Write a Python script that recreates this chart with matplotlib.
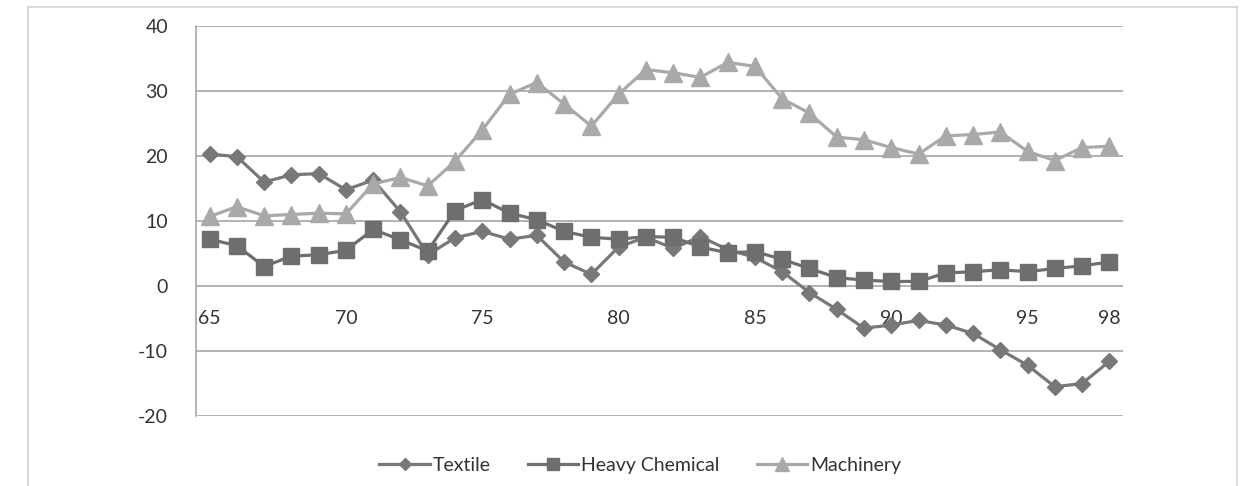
import matplotlib.pyplot as plt
import numpy as np
from matplotlib.lines import Line2D

plt.rcParams['font.family'] = ['Lato', 'DejaVu Sans']
plt.rcParams['axes.unicode_minus'] = False

years = np.arange(65, 99)
textile = [20.3, 19.9, 16.0, 17.1, 17.3, 14.8, 16.3, 11.4, 4.8, 7.4, 8.4, 7.2, 7.8, 3.7, 1.8,
           6.0, 7.5, 5.8, 7.6, 5.6, 4.4, 2.2, -1.0, -3.6, -6.5, -6.0, -5.3, -6.0, -7.3, -9.8,
           -12.2, -15.5, -15.0, -11.6]
heavy_chemical = [7.2, 6.2, 3.0, 4.6, 4.8, 5.5, 8.7, 7.1, 5.4, 11.6, 13.3, 11.2, 10.2, 8.4, 7.5,
                  7.2, 7.6, 7.5, 6.0, 5.1, 5.3, 4.1, 2.7, 1.3, 0.9, 0.7, 0.7, 2.0, 2.2, 2.5,
                  2.2, 2.7, 3.1, 3.7]
machinery = [10.7, 12.2, 10.8, 11.0, 11.2, 11.1, 15.7, 16.7, 15.4, 19.2, 24.0, 29.5, 31.3, 28.0, 24.6,
             29.5, 33.3, 32.8, 32.1, 34.4, 33.8, 28.8, 26.6, 22.9, 22.5, 21.3, 20.3, 23.1, 23.3, 23.7,
             20.7, 19.3, 21.3, 21.5]
xtick_pos = [65, 70, 75, 80, 85, 90, 95, 98]
xtick_labels = ["65", "70", "75", "80", "85", "90", "95", "98"]
yticks = [-20, -10, 0, 10, 20, 30, 40]

fig = plt.figure(figsize=(12.53, 4.86), dpi=100)
ax = fig.add_axes([196 / 1253, 1 - 416 / 486, (1123 - 196) / 1253, 390 / 486])

# outer chart-area frame
fig.add_artist(Line2D([28 / 1253, 28 / 1253], [0, 1 - 7 / 486], color="#d4d4d4", lw=1.2))
fig.add_artist(Line2D([28 / 1253, 1237 / 1253], [1 - 7 / 486, 1 - 7 / 486], color="#d4d4d4", lw=1.2))
fig.add_artist(Line2D([1237 / 1253, 1237 / 1253], [0, 1 - 7 / 486], color="#d4d4d4", lw=1.2))

ax.plot(years, textile, color="#787878", lw=2.3, marker="D", ms=8.5, label="Textile", zorder=3)
ax.plot(years, heavy_chemical, color="#6e6e6e", lw=2.3, marker="s", ms=11, label="Heavy Chemical", zorder=4)
ax.plot(years, machinery, color="#a9a9a9", lw=2.3, marker="^", ms=12.5, label="Machinery", zorder=5)

ax.set_xlim(64.5, 98.5)
ax.set_ylim(-20, 40)
ax.set_yticks(yticks)
ax.yaxis.grid(True, color="#a6a6a6", lw=1.2)
ax.set_axisbelow(True)

for s in ["top", "right"]:
    ax.spines[s].set_visible(False)
ax.spines["left"].set_color("#a6a6a6")
ax.spines["left"].set_linewidth(1.2)
ax.spines["bottom"].set_position(("data", 0))
ax.spines["bottom"].set_visible(False)

ax.set_xticks(xtick_pos)
ax.set_xticklabels(xtick_labels)
ax.tick_params(axis="x", length=0, pad=17, labelsize=14, labelcolor="#333333")
ax.tick_params(axis="y", length=0, pad=20, labelsize=14, labelcolor="#333333")

fig.legend(loc="center", bbox_to_anchor=(0.511, 1 - 465 / 486), ncol=3, frameon=False,
           fontsize=14, handlelength=2.6, handletextpad=0.15, columnspacing=1.9,
           markerscale=0.75, labelcolor="#333333")

fig.savefig("out.png", dpi=100)
